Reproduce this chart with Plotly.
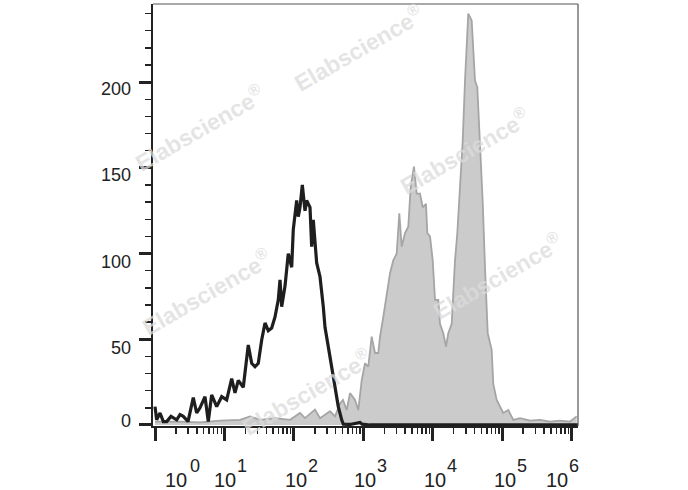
import plotly.graph_objects as go

# ---- data (x positions read as log10 decades, y = event counts) ----
black_log = [0.0, 0.024, 0.072, 0.12, 0.168, 0.23, 0.312, 0.36, 0.407, 0.475, 0.551, 0.600, 0.648,
             0.720, 0.767, 0.816, 0.888, 0.960, 1.032, 1.104, 1.152, 1.199, 1.271, 1.343, 1.392,
             1.440, 1.487, 1.536, 1.584, 1.631, 1.680, 1.728, 1.775, 1.800, 1.824, 1.872, 1.919,
             1.968, 1.991, 2.016, 2.040, 2.063, 2.088, 2.121, 2.160, 2.184, 2.232, 2.256, 2.279,
             2.328, 2.376, 2.423, 2.448, 2.495, 2.544, 2.592, 2.639, 2.688, 2.711, 2.808, 2.894,
             2.952, 2.981, 3.096, 3.53, 4.25, 4.97, 5.54, 6.09]
black_val = [10.7, 3, 7, 2, 2, 5, 3, 6, 5, 2, 16, 7, 10,
             16.5, 2, 17.5, 10.7, 16.5, 14.6, 27, 18.7, 26, 22, 46.7, 36,
             34, 36, 49.6, 59.5, 55, 56.6, 63, 73, 84.6, 69, 81, 100,
             92, 114, 124, 131, 121.5, 127, 140, 125, 131, 127, 104, 119.6,
             94.5, 86.5, 69, 57, 45.7, 34, 22, 10.7, 3, 0.5, 0.3, 1,
             1.5, 0.5, 0, 0, 0, 0, 0, 0]

gray_log = [0.0, 0.36, 0.648, 0.936, 1.224, 1.368, 1.512, 1.728, 1.944, 2.088, 2.160, 2.304, 2.376,
            2.520, 2.592, 2.664, 2.707, 2.760, 2.808, 2.880, 2.927, 2.976, 3.024, 3.071, 3.120,
            3.168, 3.215, 3.240, 3.287, 3.336, 3.384, 3.431, 3.480, 3.518, 3.552, 3.600, 3.647,
            3.682, 3.729, 3.768, 3.816, 3.855, 3.902, 3.921, 3.960, 3.999, 4.032, 4.079, 4.104,
            4.151, 4.190, 4.223, 4.272, 4.320, 4.353, 4.392, 4.431, 4.464, 4.511, 4.560, 4.608,
            4.641, 4.680, 4.718, 4.752, 4.791, 4.848, 4.871, 4.920, 4.968, 5.015, 5.087, 5.159,
            5.256, 5.40, 5.544, 5.688, 5.83, 5.976, 6.072]
gray_val = [2, 2, 1.5, 2.5, 3, 5, 3, 4, 3, 7, 4, 9, 4,
            8, 5, 12.6, 14.6, 8.7, 18.6, 14.6, 8.7, 26, 36, 34, 51.5,
            42, 42, 51.5, 63, 77, 88.5, 96, 100, 123.5, 104, 112, 115.7,
            139, 150.7, 135, 135, 127, 129, 112, 110, 96, 73, 73, 59,
            53.5, 45.7, 53.5, 59, 96, 112, 139, 166, 201, 240, 236, 201,
            197, 166, 131, 92, 53.5, 43.8, 24, 14.6, 10.7, 7, 8.7, 3,
            4, 2.5, 3, 2, 2.5, 2, 5]

x_tick_exps = [0, 1, 2, 3, 4, 5, 6]
y_tick_vals = [0, 50, 100, 150, 200]

watermark_text = "Elabscience<sup>®</sup>"
# ---------------------------------------------------------------------

FONT = "Arial, Liberation Sans, sans-serif"
L, R, T, B = 153, 578, 4, 426
W, H = 688, 490
XR = [-0.029, 6.091]
YR = [-0.6, 245.6]

def px_to_paper_x(px):
    return (px - L) / (R - L)

def px_to_paper_y(py):
    return (B - py) / (B - T)

fig = go.Figure()
fig.add_trace(go.Scatter(
    x=[10 ** v for v in gray_log], y=gray_val, mode="lines",
    fill="tozeroy", fillcolor="#cbcbcb",
    line=dict(color="#a5a5a5", width=1.8), hoverinfo="skip"))
fig.add_trace(go.Scatter(
    x=[10 ** v for v in black_log], y=black_val, mode="lines",
    line=dict(color="#1e1e1e", width=3.2), hoverinfo="skip"))

minor_x = [k * 10 ** d for d in range(0, 6) for k in range(2, 10)]

fig.update_xaxes(
    type="log", range=XR, showgrid=False, zeroline=False,
    showline=True, linecolor="#222", linewidth=2,
    tickmode="array", tickvals=[10 ** e for e in x_tick_exps],
    ticks="outside", ticklen=13, tickwidth=3, tickcolor="#222",
    showticklabels=False,
    minor=dict(tickmode="array", tickvals=minor_x, ticks="outside",
               ticklen=6, tickwidth=1.5, tickcolor="#222"))
fig.update_yaxes(
    range=YR, showgrid=False, zeroline=False,
    showline=True, linecolor="#222", linewidth=2,
    tickmode="array", tickvals=y_tick_vals,
    ticks="outside", ticklen=12, tickwidth=3, tickcolor="#222",
    showticklabels=False,
    minor=dict(dtick=10, tick0=0, ticks="outside", ticklen=6,
               tickwidth=1.5, tickcolor="#222"))

ann = []
# x tick labels (10 with exponent), positioned like the original
base_cx = [175.8, 225.0, 295.8, 364.8, 434.8, 504.8, 556.7]
exp_cx = [194.5, 241.5, 313.0, 382.0, 451.7, 522.3, 574.0]
for e, bx, ex in zip(x_tick_exps, base_cx, exp_cx):
    ann.append(dict(text="10", xref="paper", yref="paper",
                    x=px_to_paper_x(bx), y=px_to_paper_y(479.5),
                    xanchor="center", yanchor="middle", showarrow=False,
                    font=dict(family=FONT, size=20, color="#222")))
    ann.append(dict(text=str(e), xref="paper", yref="paper",
                    x=px_to_paper_x(ex), y=px_to_paper_y(466),
                    xanchor="center", yanchor="middle", showarrow=False,
                    font=dict(family=FONT, size=18, color="#222")))
# y tick labels
y_lab_cy = {0: 421, 50: 347.5, 100: 262, 150: 175.5, 200: 89.5}
for v in y_tick_vals:
    ann.append(dict(text=str(v), xref="paper", yref="paper",
                    x=px_to_paper_x(133), y=px_to_paper_y(y_lab_cy[v]),
                    xanchor="right", yanchor="middle", showarrow=False,
                    font=dict(family=FONT, size=18, color="#222")))
# watermarks
wm_centers = [(358, 48), (199, 128), (464, 151), (497, 276), (206, 292), (306, 392)]
for cx, cy in wm_centers:
    ann.append(dict(text=watermark_text, xref="paper", yref="paper",
                    x=px_to_paper_x(cx), y=px_to_paper_y(cy),
                    xanchor="center", yanchor="middle", showarrow=False,
                    textangle=-30,
                    font=dict(family="Liberation Sans, Arial, sans-serif", size=23,
                              color="rgba(220,220,220,0.75)", weight="bold")))

fig.update_layout(
    width=W, height=H, autosize=False,
    margin=dict(l=L, r=W - R, t=T, b=H - B, pad=0),
    paper_bgcolor="white", plot_bgcolor="white",
    showlegend=False, annotations=ann,
    shapes=[
        dict(type="line", xref="paper", yref="paper", x0=0, x1=1, y0=1, y1=1,
             line=dict(color="#555", width=1.2)),
        dict(type="line", xref="paper", yref="paper", x0=1, x1=1, y0=0, y1=1,
             line=dict(color="#555", width=1.2)),
    ],
)

fig.write_html("out.html",
               config={"displayModeBar": False, "staticPlot": True},
               post_script="document.body.style.margin='0px';"
                           "document.body.style.overflow='hidden';")
